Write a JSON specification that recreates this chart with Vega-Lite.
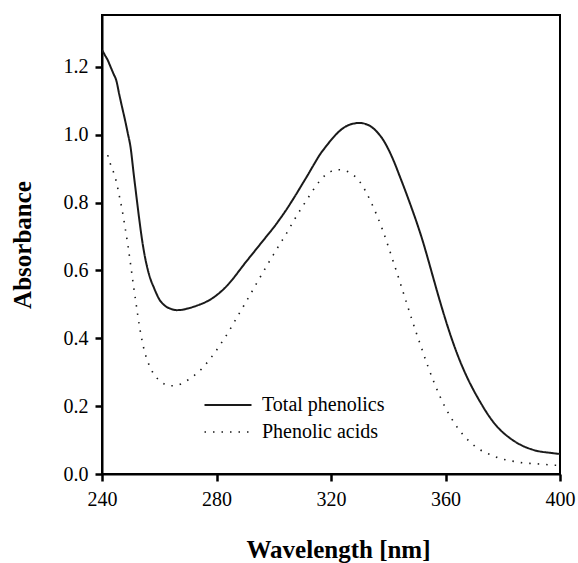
{
  "$schema": "https://vega.github.io/schema/vega-lite/v6.json",
  "width": 458,
  "height": 459,
  "autosize": {"type": "none"},
  "padding": {"left": 102, "top": 15, "right": 18, "bottom": 89},
  "background": "white",
  "config": {
    "view": {"stroke": "black", "strokeWidth": 2},
    "font": "Liberation Serif",
    "axis": {
      "domainColor": "black", "domainWidth": 2, "ticks": true, "tickColor": "black", "tickWidth": 2.5, "tickSize": 7, "tickOpacity": 1,
      "labelFont": "Liberation Serif", "labelFontSize": 20, "labelColor": "black",
      "titleFont": "Liberation Serif", "titleFontSize": 25, "titleFontWeight": "bold", "titleColor": "black",
      "grid": false, "labelFlush": false
    }
  },
  "data": {"values": [
    {"wl":240,"abs":1.25,"series":"Total phenolics"},
    {"wl":241,"abs":1.235,"series":"Total phenolics"},
    {"wl":242,"abs":1.22,"series":"Total phenolics"},
    {"wl":243,"abs":1.2,"series":"Total phenolics"},
    {"wl":244,"abs":1.18,"series":"Total phenolics"},
    {"wl":245,"abs":1.16,"series":"Total phenolics"},
    {"wl":246,"abs":1.12,"series":"Total phenolics"},
    {"wl":247,"abs":1.082,"series":"Total phenolics"},
    {"wl":248,"abs":1.045,"series":"Total phenolics"},
    {"wl":249,"abs":1.005,"series":"Total phenolics"},
    {"wl":250,"abs":0.962,"series":"Total phenolics"},
    {"wl":251,"abs":0.89,"series":"Total phenolics"},
    {"wl":252,"abs":0.82,"series":"Total phenolics"},
    {"wl":253,"abs":0.752,"series":"Total phenolics"},
    {"wl":254,"abs":0.69,"series":"Total phenolics"},
    {"wl":255,"abs":0.64,"series":"Total phenolics"},
    {"wl":256,"abs":0.602,"series":"Total phenolics"},
    {"wl":257,"abs":0.573,"series":"Total phenolics"},
    {"wl":258,"abs":0.552,"series":"Total phenolics"},
    {"wl":259,"abs":0.532,"series":"Total phenolics"},
    {"wl":260,"abs":0.515,"series":"Total phenolics"},
    {"wl":262,"abs":0.496,"series":"Total phenolics"},
    {"wl":264,"abs":0.487,"series":"Total phenolics"},
    {"wl":266,"abs":0.483,"series":"Total phenolics"},
    {"wl":268,"abs":0.484,"series":"Total phenolics"},
    {"wl":270,"abs":0.488,"series":"Total phenolics"},
    {"wl":272,"abs":0.493,"series":"Total phenolics"},
    {"wl":274,"abs":0.499,"series":"Total phenolics"},
    {"wl":276,"abs":0.506,"series":"Total phenolics"},
    {"wl":278,"abs":0.515,"series":"Total phenolics"},
    {"wl":280,"abs":0.527,"series":"Total phenolics"},
    {"wl":282,"abs":0.541,"series":"Total phenolics"},
    {"wl":284,"abs":0.558,"series":"Total phenolics"},
    {"wl":286,"abs":0.578,"series":"Total phenolics"},
    {"wl":288,"abs":0.6,"series":"Total phenolics"},
    {"wl":290,"abs":0.622,"series":"Total phenolics"},
    {"wl":292,"abs":0.643,"series":"Total phenolics"},
    {"wl":294,"abs":0.664,"series":"Total phenolics"},
    {"wl":296,"abs":0.685,"series":"Total phenolics"},
    {"wl":298,"abs":0.706,"series":"Total phenolics"},
    {"wl":300,"abs":0.727,"series":"Total phenolics"},
    {"wl":302,"abs":0.75,"series":"Total phenolics"},
    {"wl":304,"abs":0.774,"series":"Total phenolics"},
    {"wl":306,"abs":0.8,"series":"Total phenolics"},
    {"wl":308,"abs":0.827,"series":"Total phenolics"},
    {"wl":310,"abs":0.855,"series":"Total phenolics"},
    {"wl":312,"abs":0.883,"series":"Total phenolics"},
    {"wl":314,"abs":0.912,"series":"Total phenolics"},
    {"wl":316,"abs":0.94,"series":"Total phenolics"},
    {"wl":318,"abs":0.963,"series":"Total phenolics"},
    {"wl":320,"abs":0.984,"series":"Total phenolics"},
    {"wl":322,"abs":1.003,"series":"Total phenolics"},
    {"wl":324,"abs":1.018,"series":"Total phenolics"},
    {"wl":326,"abs":1.028,"series":"Total phenolics"},
    {"wl":328,"abs":1.033,"series":"Total phenolics"},
    {"wl":330,"abs":1.035,"series":"Total phenolics"},
    {"wl":332,"abs":1.032,"series":"Total phenolics"},
    {"wl":334,"abs":1.024,"series":"Total phenolics"},
    {"wl":336,"abs":1.009,"series":"Total phenolics"},
    {"wl":338,"abs":0.988,"series":"Total phenolics"},
    {"wl":340,"abs":0.958,"series":"Total phenolics"},
    {"wl":342,"abs":0.921,"series":"Total phenolics"},
    {"wl":344,"abs":0.878,"series":"Total phenolics"},
    {"wl":346,"abs":0.834,"series":"Total phenolics"},
    {"wl":348,"abs":0.788,"series":"Total phenolics"},
    {"wl":350,"abs":0.74,"series":"Total phenolics"},
    {"wl":352,"abs":0.688,"series":"Total phenolics"},
    {"wl":354,"abs":0.63,"series":"Total phenolics"},
    {"wl":356,"abs":0.57,"series":"Total phenolics"},
    {"wl":358,"abs":0.511,"series":"Total phenolics"},
    {"wl":360,"abs":0.455,"series":"Total phenolics"},
    {"wl":362,"abs":0.403,"series":"Total phenolics"},
    {"wl":364,"abs":0.356,"series":"Total phenolics"},
    {"wl":366,"abs":0.314,"series":"Total phenolics"},
    {"wl":368,"abs":0.277,"series":"Total phenolics"},
    {"wl":370,"abs":0.244,"series":"Total phenolics"},
    {"wl":372,"abs":0.214,"series":"Total phenolics"},
    {"wl":374,"abs":0.186,"series":"Total phenolics"},
    {"wl":376,"abs":0.161,"series":"Total phenolics"},
    {"wl":378,"abs":0.14,"series":"Total phenolics"},
    {"wl":380,"abs":0.123,"series":"Total phenolics"},
    {"wl":382,"abs":0.109,"series":"Total phenolics"},
    {"wl":384,"abs":0.097,"series":"Total phenolics"},
    {"wl":386,"abs":0.087,"series":"Total phenolics"},
    {"wl":388,"abs":0.079,"series":"Total phenolics"},
    {"wl":390,"abs":0.073,"series":"Total phenolics"},
    {"wl":392,"abs":0.068,"series":"Total phenolics"},
    {"wl":394,"abs":0.065,"series":"Total phenolics"},
    {"wl":396,"abs":0.063,"series":"Total phenolics"},
    {"wl":398,"abs":0.061,"series":"Total phenolics"},
    {"wl":400,"abs":0.059,"series":"Total phenolics"},
    {"wl":242,"abs":0.94,"series":"Phenolic acids"},
    {"wl":243,"abs":0.912,"series":"Phenolic acids"},
    {"wl":244,"abs":0.89,"series":"Phenolic acids"},
    {"wl":245,"abs":0.862,"series":"Phenolic acids"},
    {"wl":246,"abs":0.822,"series":"Phenolic acids"},
    {"wl":247,"abs":0.78,"series":"Phenolic acids"},
    {"wl":248,"abs":0.73,"series":"Phenolic acids"},
    {"wl":249,"abs":0.677,"series":"Phenolic acids"},
    {"wl":250,"abs":0.617,"series":"Phenolic acids"},
    {"wl":251,"abs":0.555,"series":"Phenolic acids"},
    {"wl":252,"abs":0.497,"series":"Phenolic acids"},
    {"wl":253,"abs":0.44,"series":"Phenolic acids"},
    {"wl":254,"abs":0.393,"series":"Phenolic acids"},
    {"wl":255,"abs":0.357,"series":"Phenolic acids"},
    {"wl":256,"abs":0.331,"series":"Phenolic acids"},
    {"wl":257,"abs":0.311,"series":"Phenolic acids"},
    {"wl":258,"abs":0.296,"series":"Phenolic acids"},
    {"wl":260,"abs":0.276,"series":"Phenolic acids"},
    {"wl":262,"abs":0.264,"series":"Phenolic acids"},
    {"wl":264,"abs":0.26,"series":"Phenolic acids"},
    {"wl":266,"abs":0.261,"series":"Phenolic acids"},
    {"wl":268,"abs":0.267,"series":"Phenolic acids"},
    {"wl":270,"abs":0.277,"series":"Phenolic acids"},
    {"wl":272,"abs":0.289,"series":"Phenolic acids"},
    {"wl":274,"abs":0.303,"series":"Phenolic acids"},
    {"wl":276,"abs":0.321,"series":"Phenolic acids"},
    {"wl":278,"abs":0.342,"series":"Phenolic acids"},
    {"wl":280,"abs":0.365,"series":"Phenolic acids"},
    {"wl":282,"abs":0.39,"series":"Phenolic acids"},
    {"wl":284,"abs":0.416,"series":"Phenolic acids"},
    {"wl":286,"abs":0.445,"series":"Phenolic acids"},
    {"wl":288,"abs":0.474,"series":"Phenolic acids"},
    {"wl":290,"abs":0.503,"series":"Phenolic acids"},
    {"wl":292,"abs":0.532,"series":"Phenolic acids"},
    {"wl":294,"abs":0.562,"series":"Phenolic acids"},
    {"wl":296,"abs":0.591,"series":"Phenolic acids"},
    {"wl":298,"abs":0.62,"series":"Phenolic acids"},
    {"wl":300,"abs":0.648,"series":"Phenolic acids"},
    {"wl":302,"abs":0.676,"series":"Phenolic acids"},
    {"wl":304,"abs":0.703,"series":"Phenolic acids"},
    {"wl":306,"abs":0.732,"series":"Phenolic acids"},
    {"wl":308,"abs":0.761,"series":"Phenolic acids"},
    {"wl":310,"abs":0.788,"series":"Phenolic acids"},
    {"wl":312,"abs":0.814,"series":"Phenolic acids"},
    {"wl":314,"abs":0.84,"series":"Phenolic acids"},
    {"wl":316,"abs":0.863,"series":"Phenolic acids"},
    {"wl":318,"abs":0.881,"series":"Phenolic acids"},
    {"wl":320,"abs":0.892,"series":"Phenolic acids"},
    {"wl":322,"abs":0.897,"series":"Phenolic acids"},
    {"wl":324,"abs":0.896,"series":"Phenolic acids"},
    {"wl":326,"abs":0.891,"series":"Phenolic acids"},
    {"wl":328,"abs":0.88,"series":"Phenolic acids"},
    {"wl":330,"abs":0.862,"series":"Phenolic acids"},
    {"wl":332,"abs":0.835,"series":"Phenolic acids"},
    {"wl":334,"abs":0.801,"series":"Phenolic acids"},
    {"wl":336,"abs":0.763,"series":"Phenolic acids"},
    {"wl":338,"abs":0.72,"series":"Phenolic acids"},
    {"wl":340,"abs":0.671,"series":"Phenolic acids"},
    {"wl":342,"abs":0.62,"series":"Phenolic acids"},
    {"wl":344,"abs":0.568,"series":"Phenolic acids"},
    {"wl":346,"abs":0.515,"series":"Phenolic acids"},
    {"wl":348,"abs":0.462,"series":"Phenolic acids"},
    {"wl":350,"abs":0.411,"series":"Phenolic acids"},
    {"wl":352,"abs":0.362,"series":"Phenolic acids"},
    {"wl":354,"abs":0.314,"series":"Phenolic acids"},
    {"wl":356,"abs":0.27,"series":"Phenolic acids"},
    {"wl":358,"abs":0.23,"series":"Phenolic acids"},
    {"wl":360,"abs":0.195,"series":"Phenolic acids"},
    {"wl":362,"abs":0.165,"series":"Phenolic acids"},
    {"wl":364,"abs":0.139,"series":"Phenolic acids"},
    {"wl":366,"abs":0.117,"series":"Phenolic acids"},
    {"wl":368,"abs":0.099,"series":"Phenolic acids"},
    {"wl":370,"abs":0.084,"series":"Phenolic acids"},
    {"wl":372,"abs":0.072,"series":"Phenolic acids"},
    {"wl":374,"abs":0.063,"series":"Phenolic acids"},
    {"wl":376,"abs":0.056,"series":"Phenolic acids"},
    {"wl":378,"abs":0.049,"series":"Phenolic acids"},
    {"wl":380,"abs":0.044,"series":"Phenolic acids"},
    {"wl":382,"abs":0.04,"series":"Phenolic acids"},
    {"wl":384,"abs":0.037,"series":"Phenolic acids"},
    {"wl":386,"abs":0.034,"series":"Phenolic acids"},
    {"wl":388,"abs":0.032,"series":"Phenolic acids"},
    {"wl":390,"abs":0.031,"series":"Phenolic acids"},
    {"wl":392,"abs":0.03,"series":"Phenolic acids"},
    {"wl":394,"abs":0.029,"series":"Phenolic acids"},
    {"wl":396,"abs":0.027,"series":"Phenolic acids"},
    {"wl":398,"abs":0.026,"series":"Phenolic acids"},
    {"wl":400,"abs":0.026,"series":"Phenolic acids"}
  ]},
  "mark": {"type": "line", "color": "#1a1a1a", "interpolate": "monotone", "clip": true},
  "encoding": {
    "x": {
      "field": "wl", "type": "quantitative",
      "scale": {"domain": [240, 400], "nice": false, "zero": false},
      "axis": {"values": [240, 280, 320, 360, 400], "title": "Wavelength [nm]", "labelPadding": 8, "titlePadding": 28, "titleX": 236, "ticks": true, "tickSize": 7}
    },
    "y": {
      "field": "abs", "type": "quantitative",
      "scale": {"domain": [0, 1.353], "nice": false},
      "axis": {"values": [0, 0.2, 0.4, 0.6, 0.8, 1.0, 1.2], "format": ".1f", "title": "Absorbance", "labelPadding": 7, "titlePadding": 28, "ticks": true, "tickSize": 7}
    },
    "strokeDash": {
      "field": "series", "type": "nominal",
      "scale": {"domain": ["Total phenolics", "Phenolic acids"], "range": [[1, 0], [1.5, 7]]},
      "legend": {
        "title": null, "orient": "none", "legendX": 115, "legendY": 379,
        "symbolType": "M-2.35,0H2.35", "symbolSize": 400, "symbolStrokeWidth": 2, "symbolStrokeColor": "#1a1a1a",
        "labelFont": "Liberation Serif", "labelFontSize": 20, "labelColor": "black", "labelOffset": 23,
        "rowPadding": 6, "padding": 0
      }
    },
    "strokeWidth": {
      "field": "series", "type": "nominal",
      "scale": {"domain": ["Total phenolics", "Phenolic acids"], "range": [2, 1.6]},
      "legend": null
    }
  }
}
